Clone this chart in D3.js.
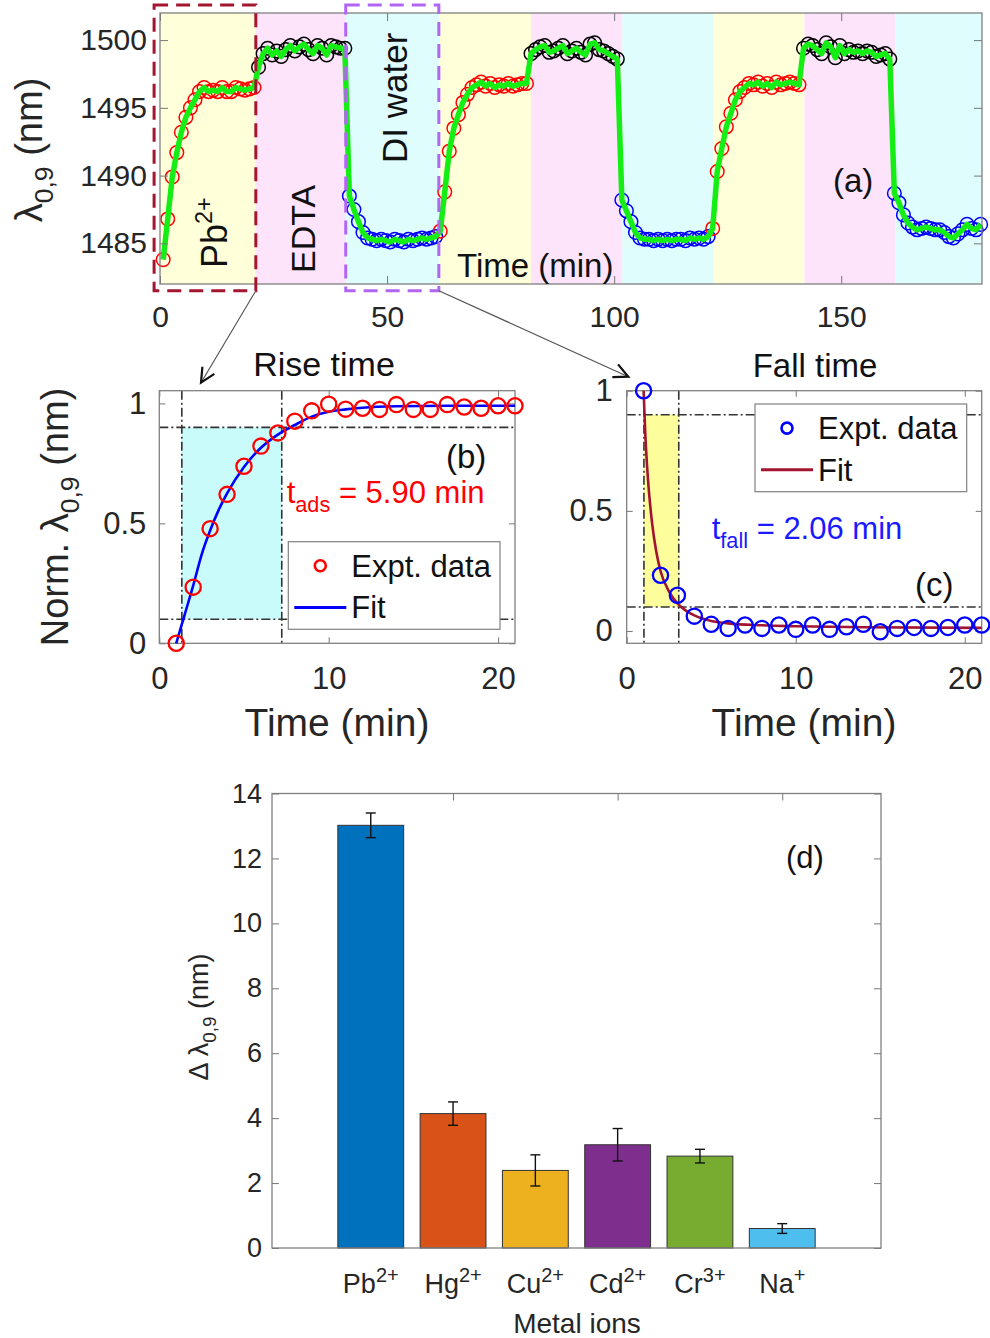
<!DOCTYPE html>
<html>
<head>
<meta charset="utf-8">
<script src="https://cdn.jsdelivr.net/npm/d3@7"></script>
<style>
  body { margin: 0; background: #fff; }
  svg text { font-family: "Liberation Sans", Arial, Helvetica, sans-serif; }
</style>
</head>
<body>
<svg id="fig" width="990" height="1338"></svg>
<script>
// ---- data ----

// (a) sensor trace, one reading per minute
const traceStart = 0.7;
const traceStep = 1;

const pbRun1 = [1483.8, 1486.8, 1489.9, 1491.7, 1493.2, 1494.3, 1495.0, 1495.6, 1496.2, 1496.5, 1496.2,
                1496.3, 1496.2, 1496.5, 1496.2, 1496.2, 1496.5, 1496.4, 1496.3, 1496.4, 1496.5];
const edtaRun1 = [1498.0, 1499.0, 1499.4, 1498.9, 1499.2, 1498.8, 1499.3, 1499.6, 1499.2, 1499.5,
                  1499.7, 1499.3, 1499.0, 1499.6, 1499.4, 1498.9, 1499.6, 1499.5, 1499.4, 1499.4];
const diRun1 = [1488.5, 1487.5, 1486.6, 1485.8, 1485.4, 1485.3, 1485.2, 1485.3, 1485.2, 1485.1,
                1485.3, 1485.2, 1485.1, 1485.3, 1485.2, 1485.3, 1485.4, 1485.3, 1485.4, 1485.5];
const pbRun2 = [1485.9, 1488.8, 1491.8, 1493.5, 1494.5, 1495.4, 1496.0, 1496.5, 1496.7, 1496.9,
                1496.6, 1496.8, 1496.5, 1496.7, 1496.6, 1496.8, 1496.6, 1496.7, 1496.8, 1496.8];
const edtaRun2 = [1499.0, 1499.3, 1499.5, 1499.6, 1499.1, 1499.2, 1499.4, 1499.6, 1499.0, 1499.2,
                  1499.4, 1499.1, 1498.9, 1499.7, 1499.8, 1499.3, 1499.2, 1499.0, 1498.8, 1498.6];
const diRun2 = [1488.2, 1487.4, 1486.6, 1485.8, 1485.4, 1485.3, 1485.3, 1485.2, 1485.3, 1485.2,
                1485.3, 1485.2, 1485.3, 1485.3, 1485.2, 1485.4, 1485.3, 1485.4, 1485.3, 1485.5];
const pbRun3 = [1486.1, 1490.3, 1492.0, 1493.6, 1494.6, 1495.6, 1496.2, 1496.5, 1496.8, 1496.7,
                1496.9, 1496.6, 1496.8, 1496.5, 1496.9, 1496.7, 1496.8, 1496.9, 1496.8, 1496.7];
const edtaRun3 = [1499.4, 1499.7, 1499.6, 1499.3, 1499.0, 1499.8, 1499.5, 1498.7, 1499.6, 1499.0,
                  1499.3, 1499.1, 1499.2, 1499.0, 1499.2, 1499.1, 1498.8, 1498.9, 1499.0, 1498.6];
const diRun3 = [1488.7, 1488.0, 1487.1, 1486.5, 1486.2, 1486.0, 1486.1, 1486.2, 1486.1, 1486.0,
                1486.0, 1485.8, 1485.5, 1485.4, 1485.7, 1486.0, 1486.4, 1486.1, 1486.0, 1486.4];

const phaseRuns = [pbRun1, edtaRun1, diRun1, pbRun2, edtaRun2, diRun2, pbRun3, edtaRun3, diRun3];
const phaseKinds = ["Pb", "EDTA", "DI", "Pb", "EDTA", "DI", "Pb", "EDTA", "DI"];
const phaseEdges = [0, 21, 41, 61.5, 81.7, 101.8, 121.9, 141.9, 161.9, 181];

// windows of the trace that are zoomed in (b) and (c)
const riseWindow = [-1.3, 21.1];
const fallWindow = [40.9, 61.4];

// (b) rise and (c) fall, normalised
const minutes = [1, 2, 3, 4, 5, 6, 7, 8, 9, 10, 11, 12, 13, 14, 15, 16, 17, 18, 19, 20, 21];
const riseNorm = [0, 0.234, 0.478, 0.621, 0.738, 0.822, 0.877, 0.926, 0.969, 0.997, 0.976,
                  0.98, 0.975, 0.995, 0.975, 0.975, 0.995, 0.985, 0.98, 0.99, 0.99];
const riseFitT = [1, 1.5, 2, 2.5, 3, 3.5, 4, 5, 6, 7, 8, 9, 10, 11, 12, 14, 17, 21];
const riseFitV = [0, 0.12, 0.24, 0.37, 0.47, 0.555, 0.625, 0.735, 0.815, 0.87, 0.91, 0.945,
                  0.965, 0.975, 0.982, 0.988, 0.99, 0.99];
const riseMarks = [1.33, 7.23];   // 10% and 90% crossings
const fallNorm = [1.0, 0.232, 0.149, 0.062, 0.028, 0.011, 0.025, 0.011, 0.025, 0.007, 0.025,
                  0.007, 0.018, 0.028, -0.003, 0.011, 0.015, 0.011, 0.015, 0.025, 0.025];
const fallFitT = [1, 1.1, 1.25, 1.5, 1.75, 2, 2.5, 3, 3.5, 4, 5, 6, 8, 10, 14, 21];
const fallFitV = [1.0, 0.82, 0.64, 0.45, 0.33, 0.25, 0.165, 0.115, 0.085, 0.065, 0.042,
                  0.032, 0.024, 0.02, 0.016, 0.013];
const fallMarks = [1.02, 3.08];
const levels = [0.1, 0.9];

// (d) selectivity
const ions = ["Pb", "Hg", "Cu", "Cd", "Cr", "Na"];
const charges = ["2+", "2+", "2+", "2+", "3+", "+"];
const shift = [13.02, 4.14, 2.39, 3.18, 2.83, 0.60];
const shiftErr = [0.38, 0.36, 0.48, 0.50, 0.21, 0.15];

// ---- drawing ----
const FONT = '"Liberation Sans", Arial, Helvetica, sans-serif';
const INK = "#262626";
const svg = d3.select("#fig");

// text with sub / superscripts: parts = [{s, sub|sup}]
function rich(g, x, y, parts, o) {
  const t = g.append("text").attr("x", x).attr("y", y)
    .attr("font-size", o.size).attr("fill", o.color || INK)
    .attr("text-anchor", o.anchor || "start");
  if (o.family) t.attr("font-family", o.family);
  if (o.rotate) t.attr("transform", `rotate(${o.rotate},${x},${y})`);
  const supScale = o.supScale || 0.65;
  let cur = 0;
  parts.forEach(p => {
    const s = p.sub ? o.size * 0.7 : p.sup ? o.size * supScale : o.size;
    const off = p.sub ? o.size * 0.3 : p.sup ? -o.size * 0.42 : 0;
    t.append("tspan").attr("font-size", s).attr("dy", off - cur).text(p.s);
    cur = off;
  });
  return t;
}

function styleAxis(g, size) {
  g.attr("font-size", size).attr("font-family", FONT);
  g.select(".domain").remove();
  g.selectAll(".tick line").attr("stroke", "#777").attr("stroke-width", 1);
  g.selectAll(".tick text").attr("fill", INK);
}

// box with inside ticks on all four sides
function frame(g, x, y, box, xt, yt, size, padX, padY, fmt, tick) {
  styleAxis(g.append("g").attr("transform", `translate(0,${box.b})`)
    .call(d3.axisBottom(x).tickValues(xt).tickSize(-tick).tickPadding(padX).tickFormat(fmt)), size);
  styleAxis(g.append("g").attr("transform", `translate(0,${box.t})`)
    .call(d3.axisTop(x).tickValues(xt).tickSize(-tick).tickFormat("")), size);
  styleAxis(g.append("g").attr("transform", `translate(${box.l},0)`)
    .call(d3.axisLeft(y).tickValues(yt).tickSize(-tick).tickPadding(padY).tickFormat(fmt)), size);
  styleAxis(g.append("g").attr("transform", `translate(${box.r},0)`)
    .call(d3.axisRight(y).tickValues(yt).tickSize(-tick).tickFormat("")), size);
  g.append("rect").attr("x", box.l).attr("y", box.t)
    .attr("width", box.r - box.l).attr("height", box.b - box.t)
    .attr("fill", "none").attr("stroke", "#808080").attr("stroke-width", 1.3);
}

function arrow(g, x1, y1, x2, y2) {
  g.append("line").attr("x1", x1).attr("y1", y1).attr("x2", x2).attr("y2", y2)
    .attr("stroke", "#555").attr("stroke-width", 1.2);
  const a = Math.atan2(y2 - y1, x2 - x1), L = 16, w = 0.45;
  const p = [[x2 - L * Math.cos(a - w), y2 - L * Math.sin(a - w)], [x2, y2],
             [x2 - L * Math.cos(a + w), y2 - L * Math.sin(a + w)]];
  g.append("path").attr("d", d3.line()(p)).attr("fill", "none")
    .attr("stroke", "#111").attr("stroke-width", 2.2);
}

const kindColor = { Pb: "#ff0000", EDTA: "#000000", DI: "#0000ff" };
const bandColor = { Pb: "#ffffda", EDTA: "#fde4fb", DI: "#dffdfd" };

// ===== (a) =====
const A = { l: 160, r: 982, t: 13, b: 284 };
const xA = d3.scaleLinear().domain([0, 181]).range([A.l, A.r]);
const yA = d3.scaleLinear().domain([1482, 1502]).range([A.b, A.t]);
const gA = svg.append("g");

gA.selectAll("rect.band").data(phaseKinds).join("rect").attr("class", "band")
  .attr("x", (k, i) => xA(phaseEdges[i])).attr("y", A.t)
  .attr("width", (k, i) => xA(phaseEdges[i + 1]) - xA(phaseEdges[i]))
  .attr("height", A.b - A.t).attr("fill", k => bandColor[k]);

let idx = 0;
const trace = [];
phaseRuns.forEach((run, p) => run.forEach(v => {
  trace.push({ t: traceStart + traceStep * idx, v: v, kind: phaseKinds[p] });
  idx++;
}));

gA.selectAll("circle").data(trace).join("circle")
  .attr("cx", d => xA(d.t)).attr("cy", d => yA(d.v)).attr("r", 6.8)
  .attr("fill", "none").attr("stroke", d => kindColor[d.kind]).attr("stroke-width", 1.5);

gA.append("path").datum(trace)
  .attr("d", d3.line().x(d => xA(d.t)).y(d => yA(d.v)))
  .attr("fill", "none").attr("stroke", "#14ee14").attr("stroke-width", 5.5)
  .attr("stroke-linejoin", "round");

frame(gA, xA, yA, A, [0, 50, 100, 150], [1485, 1490, 1495, 1500], 30, 22, 13, d3.format("d"), 8);

rich(gA, 42, 150, [{ s: "λ" }, { s: "0,9", sub: 1 }, { s: " (nm)" }], { size: 38, anchor: "middle", rotate: -90 });
rich(gA, 227, 268, [{ s: "Pb" }, { s: "2+", sup: 1 }],
     { size: 36, rotate: -90, family: '"Liberation Serif", "Times New Roman", serif', color: "#111" });
rich(gA, 315, 273, [{ s: "EDTA" }], { size: 34, rotate: -90, color: "#111" });
rich(gA, 407, 163, [{ s: "DI water" }], { size: 35, rotate: -90, color: "#111" });
rich(gA, 457, 277, [{ s: "Time (min)" }], { size: 33, color: "#111" });
rich(gA, 833, 192, [{ s: "(a)" }], { size: 33, color: "#111" });

// zoom windows
const winY0 = A.t - 8, winY1 = A.b + 6.7;
[[riseWindow, "#a3162f"], [fallWindow, "#b066f2"]].forEach(([w, c]) => {
  gA.append("rect").attr("x", xA(w[0])).attr("y", winY0)
    .attr("width", xA(w[1]) - xA(w[0])).attr("height", winY1 - winY0)
    .attr("fill", "none").attr("stroke", c).attr("stroke-width", 3)
    .attr("stroke-dasharray", "14,8");
});

// ===== (b) =====
const B = { l: 159.3, r: 515, t: 390.7, b: 643.3 };
const xB = d3.scaleLinear().domain([0, 21]).range([B.l, B.r]);
const yB = d3.scaleLinear().domain([0, 1.053]).range([B.b, B.t]);
const gB = svg.append("g");

gB.append("rect").attr("x", xB(riseMarks[0])).attr("y", yB(levels[1]))
  .attr("width", xB(riseMarks[1]) - xB(riseMarks[0])).attr("height", yB(levels[0]) - yB(levels[1]))
  .attr("fill", "#c9fbfb");

// ===== (c) =====
const C = { l: 626.7, r: 981.7, t: 390.7, b: 643.3 };
const xC = d3.scaleLinear().domain([0, 21]).range([C.l, C.r]);
const yC = d3.scaleLinear().domain([-0.051, 1]).range([C.b, C.t]);
const gC = svg.append("g");

gC.append("rect").attr("x", xC(fallMarks[0])).attr("y", yC(levels[1]))
  .attr("width", xC(fallMarks[1]) - xC(fallMarks[0])).attr("height", yC(levels[0]) - yC(levels[1]))
  .attr("fill", "#fdfd9c");

function guides(g, x, y, box, marks) {
  const dash = "9,3,2,3";
  levels.forEach(l => g.append("line").attr("x1", box.l).attr("x2", box.r)
    .attr("y1", y(l)).attr("y2", y(l)).attr("stroke", "#333").attr("stroke-width", 1.6).attr("stroke-dasharray", dash));
  marks.forEach(m => g.append("line").attr("x1", x(m)).attr("x2", x(m))
    .attr("y1", box.t).attr("y2", box.b).attr("stroke", "#333").attr("stroke-width", 1.6).attr("stroke-dasharray", dash));
}
guides(gB, xB, yB, B, riseMarks);
guides(gC, xC, yC, C, fallMarks);

const fmt = d3.format("~g");
frame(gB, xB, yB, B, [0, 10, 20], [0, 0.5, 1], 31, 24, 13, fmt, 6);
frame(gC, xC, yC, C, [0, 10, 20], [0, 0.5, 1], 31, 24, 14, fmt, 6);

function legend(g, x0, y0, x1, y1, mark, line) {
  g.append("rect").attr("x", x0).attr("y", y0).attr("width", x1 - x0).attr("height", y1 - y0)
    .attr("fill", "#fff").attr("stroke", "#808080").attr("stroke-width", 1.2);
  const h = (y1 - y0) / 2;
  g.append("circle").attr("cx", x0 + 32).attr("cy", y0 + h * 0.55).attr("r", 5.5)
    .attr("fill", "none").attr("stroke", mark).attr("stroke-width", 2.6);
  g.append("line").attr("x1", x0 + 6).attr("x2", x0 + 58).attr("y1", y0 + h * 1.5).attr("y2", y0 + h * 1.5)
    .attr("stroke", line).attr("stroke-width", 3);
  rich(g, x0 + 63, y0 + h * 0.55 + 11, [{ s: "Expt. data" }], { size: 31, color: "#111" });
  rich(g, x0 + 63, y0 + h * 1.5 + 11, [{ s: "Fit" }], { size: 31, color: "#111" });
}

// (b) marks
gB.append("path").datum(riseFitT.map((t, i) => [t, riseFitV[i]]))
  .attr("d", d3.line().x(d => xB(d[0])).y(d => yB(d[1])).curve(d3.curveMonotoneX))
  .attr("fill", "none").attr("stroke", "#0000ff").attr("stroke-width", 2.6);
gB.selectAll("circle").data(minutes).join("circle")
  .attr("cx", t => xB(t)).attr("cy", (t, i) => yB(riseNorm[i])).attr("r", 7.6)
  .attr("fill", "none").attr("stroke", "#ff0000").attr("stroke-width", 2.3);
legend(gB, 288.3, 541.7, 500, 629.3, "#ff0000", "#0000ff");
rich(gB, 286.7, 503, [{ s: "t" }, { s: "ads", sub: 1 }, { s: " = 5.90 min" }], { size: 31, color: "#ff0000" });
rich(gB, 446, 468, [{ s: "(b)" }], { size: 33, color: "#111" });
rich(gB, 337, 736, [{ s: "Time (min)" }], { size: 39, anchor: "middle" });
rich(gB, 68, 517, [{ s: "Norm. λ" }, { s: "0,9", sub: 1 }, { s: " (nm)" }], { size: 38, anchor: "middle", rotate: -90 });
rich(gB, 324, 376, [{ s: "Rise time" }], { size: 34, anchor: "middle", color: "#111" });

// (c) marks
gC.append("path").datum(fallFitT.map((t, i) => [t, fallFitV[i]]))
  .attr("d", d3.line().x(d => xC(d[0])).y(d => yC(d[1])).curve(d3.curveMonotoneX))
  .attr("fill", "none").attr("stroke", "#a2142f").attr("stroke-width", 2.6);
gC.selectAll("circle").data(minutes).join("circle")
  .attr("cx", t => xC(t)).attr("cy", (t, i) => yC(fallNorm[i])).attr("r", 7.6)
  .attr("fill", "none").attr("stroke", "#0000ff").attr("stroke-width", 2.3);
legend(gC, 755, 404, 966.7, 491.7, "#0000ff", "#a2142f");
rich(gC, 711.7, 539, [{ s: "t" }, { s: "fall", sub: 1 }, { s: " = 2.06 min" }], { size: 31, color: "#1a1aff" });
rich(gC, 915, 596, [{ s: "(c)" }], { size: 33, color: "#111" });
rich(gC, 804, 736, [{ s: "Time (min)" }], { size: 39, anchor: "middle" });
rich(gC, 815, 377, [{ s: "Fall time" }], { size: 33, anchor: "middle", color: "#111" });

// arrows from the zoom windows
arrow(svg, xA(riseWindow[1]), winY1, 201, 382.7);
arrow(svg, xA(fallWindow[1]), winY1, 628.3, 376.7);

// ===== (d) =====
const D = { l: 272, r: 881, t: 793.5, b: 1248 };
const xD = d3.scaleLinear().domain([-0.2, 7.2]).range([D.l, D.r]);
const yD = d3.scaleLinear().domain([0, 14]).range([D.b, D.t]);
const gD = svg.append("g");
const barColor = ["#0072bd", "#d95319", "#edb120", "#7e2f8e", "#77ac30", "#4dbeee"];

gD.selectAll("rect.bar").data(ions).join("rect").attr("class", "bar")
  .attr("x", (d, i) => xD(i + 1 - 0.4)).attr("y", (d, i) => yD(shift[i]))
  .attr("width", xD(0.8) - xD(0)).attr("height", (d, i) => yD(0) - yD(shift[i]))
  .attr("fill", (d, i) => barColor[i]).attr("stroke", "#333").attr("stroke-width", 1);

const eb = gD.selectAll("g.err").data(ions).join("g").attr("class", "err")
  .attr("stroke", "#111").attr("stroke-width", 1.4);
eb.append("line").attr("x1", (d, i) => xD(i + 1)).attr("x2", (d, i) => xD(i + 1))
  .attr("y1", (d, i) => yD(shift[i] - shiftErr[i])).attr("y2", (d, i) => yD(shift[i] + shiftErr[i]));
[-1, 1].forEach(sg => eb.append("line")
  .attr("x1", (d, i) => xD(i + 1) - 5).attr("x2", (d, i) => xD(i + 1) + 5)
  .attr("y1", (d, i) => yD(shift[i] + sg * shiftErr[i])).attr("y2", (d, i) => yD(shift[i] + sg * shiftErr[i])));

styleAxis(gD.append("g").attr("transform", `translate(${D.l},0)`)
  .call(d3.axisLeft(yD).tickValues(d3.range(0, 15, 2)).tickSize(-7).tickPadding(10)), 27);
styleAxis(gD.append("g").attr("transform", `translate(${D.r},0)`)
  .call(d3.axisRight(yD).tickValues(d3.range(0, 15, 2)).tickSize(-7).tickFormat("")), 27);
styleAxis(gD.append("g").attr("transform", `translate(0,${D.t})`)
  .call(d3.axisTop(xD).tickValues([2, 4, 6]).tickSize(-7).tickFormat("")), 27);
gD.append("rect").attr("x", D.l).attr("y", D.t).attr("width", D.r - D.l).attr("height", D.b - D.t)
  .attr("fill", "none").attr("stroke", "#808080").attr("stroke-width", 1.3);

ions.forEach((ion, i) => rich(gD, xD(i + 1), 1293, [{ s: ion }, { s: charges[i], sup: 1 }],
  { size: 27, anchor: "middle", supScale: 0.74 }));
rich(gD, 577, 1333, [{ s: "Metal ions" }], { size: 28, anchor: "middle" });
rich(gD, 208, 1017, [{ s: "Δ λ" }, { s: "0,9", sub: 1 }, { s: " (nm)" }], { size: 27, anchor: "middle", rotate: -90 });
rich(gD, 786, 868, [{ s: "(d)" }], { size: 31, color: "#111" });
</script>
</body>
</html>
